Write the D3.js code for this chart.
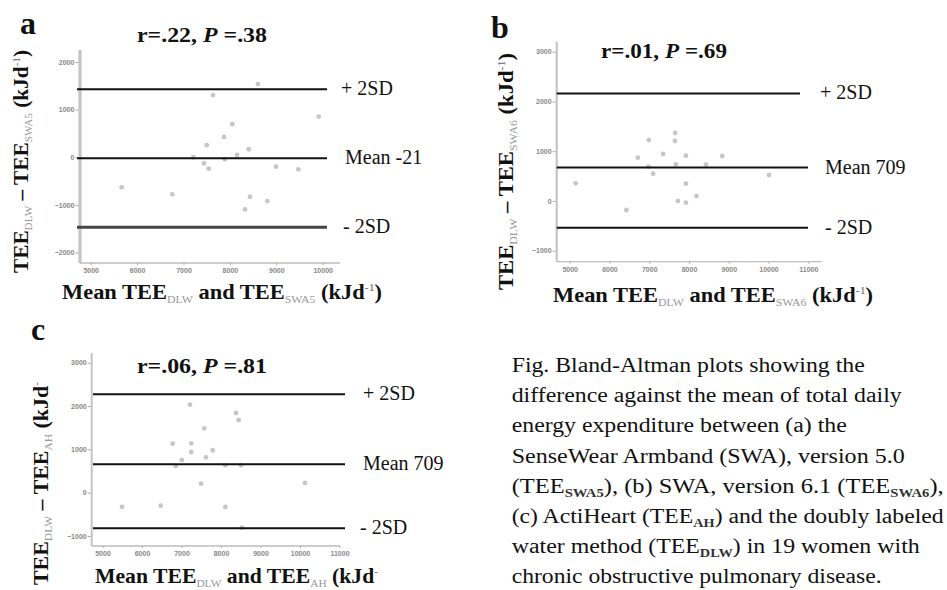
<!DOCTYPE html>
<html><head><meta charset="utf-8">
<script src="https://cdn.jsdelivr.net/npm/d3@7"></script>
<style>body{margin:0;background:#fff} svg{display:block}</style>
</head><body>
<svg id="chart" width="947" height="590"></svg>
<script>
// ---------- data ----------
const aX = [5668,6759,7211,7442,7500,7543,7636,7873,7888,8052,8153,8405,8325,8433,8606,8806,8994,9474,9914];
const aY = [-632,-779,0,-126,253,-240,1305,427,-42,695,48,168,-1095,-829,1537,-920,-198,-253,855];
const aLimits = [1430,-21,-1470];
const aLimitLabels = ["+ 2SD","Mean -21","- 2SD"];
const aXTicks = [5000,6000,7000,8000,9000,10000];
const aYTicks = [-2000,-1000,0,1000,2000];

const bX = [5151,6426,6713,6990,6980,7098,7350,7652,7645,7670,7720,7922,7922,7922,8189,8426,8836,10013];
const bY = [355,-182,869,1225,688,548,944,1366,1205,737,0,910,347,-35,99,729,904,522];
const bLimits = [2160,670,-540];
const bLimitLabels = ["+ 2SD","Mean 709","- 2SD"];
const bXTicks = [5000,6000,7000,8000,9000,10000,11000];
const bYTicks = [-1000,0,1000,2000,3000];

const cX = [5494,6473,6777,6853,7005,7215,7248,7248,7494,7577,7620,7790,8109,8109,8380,8448,8506,8532,10127];
const cY = [-330,-300,1131,616,755,2031,1140,939,208,1486,817,979,632,-330,1839,1678,632,-808,224];
const cLimits = [2270,655,-820];
const cLimitLabels = ["+ 2SD","Mean 709","- 2SD"];
const cXTicks = [5000,6000,7000,8000,9000,10000,11000];
const cYTicks = [-1000,0,1000,2000,3000];

const captionLines = [
  [["Fig. Bland-Altman plots showing the"]],
  [["difference against the mean of total daily"]],
  [["energy expenditure between (a) the"]],
  [["SenseWear Armband (SWA), version 5.0"]],
  [["(TEE"],["SWA5","sub"],["), (b) SWA, version 6.1 (TEE"],["SWA6","sub"],["),"]],
  [["(c) ActiHeart (TEE"],["AH","sub"],[") and the doubly labeled"]],
  [["water method (TEE"],["DLW","sub"],[") in 19 women with"]],
  [["chronic obstructive pulmonary disease."]]
];
const captionWidths = [353,390,335,393,432,432,408,370];

// ---------- drawing ----------
const svg = d3.select("#chart");
const SERIF = "'Liberation Serif','DejaVu Serif',serif";

function richText(sel, parts, subSize){
  parts.forEach(p=>{
    const t = sel.append("tspan").text(p[0]);
    if(p[1]==="sub"){ t.attr("font-size",subSize).attr("font-weight","normal").attr("fill","#999").attr("dy",4); }
    else if(p[1]==="sup"){ t.attr("font-size",subSize).attr("font-weight","normal").attr("fill","#666").attr("dy",-8); }
    else if(p[1]==="it"){ t.attr("font-style","italic"); }
    if(p[2]) t.attr("dy",p[2]);
  });
}

function panel(p){
  const x = d3.scaleLinear().domain(p.xDom).range(p.xRange);
  const y = d3.scaleLinear().domain(p.yDom).range(p.yRange);
  const g = svg.append("g");

  // axis lines
  g.append("line").attr("x1",p.axisX).attr("x2",p.axisX).attr("y1",p.yTop).attr("y2",p.axisY)
    .attr("stroke","#c4c4c4").attr("stroke-width",p.yAxisW);
  g.append("line").attr("x1",p.axisX).attr("x2",p.xRight).attr("y1",p.axisY).attr("y2",p.axisY)
    .attr("stroke","#bdbdbd").attr("stroke-width",1.3);

  const ya = g.append("g").attr("transform",`translate(${p.axisX - p.yAxisW/2},0)`)
    .call(d3.axisLeft(y).tickValues(p.yTicks).tickSize(3).tickPadding(1).tickFormat(d3.format("d")));
  ya.select(".domain").remove();
  ya.selectAll("line").attr("stroke","#aaa");
  ya.selectAll("text").attr("font-size",7).attr("fill","#888").attr("font-family","Arial, 'Liberation Sans', sans-serif").attr("font-weight","bold");

  const xa = g.append("g").attr("transform",`translate(0,${p.axisY})`)
    .call(d3.axisBottom(x).tickValues(p.xTicks).tickSize(2).tickPadding(3).tickFormat(d3.format("d")));
  xa.select(".domain").remove();
  xa.selectAll("line").attr("stroke","#aaa");
  xa.selectAll("text").attr("font-size",7).attr("fill","#888").attr("font-family","Arial, 'Liberation Sans', sans-serif").attr("font-weight","bold");

  // points
  g.selectAll("circle.pt").data(p.xs.map((v,i)=>[v,p.ys[i]])).join("circle")
    .attr("class","pt").attr("cx",d=>x(d[0])).attr("cy",d=>y(d[1])).attr("r",2.4)
    .attr("fill","#c6c6c6");

  // limit lines
  p.limits.forEach((v,i)=>{
    g.append("line").attr("x1",p.lineX1).attr("x2",p.lineX2[i]).attr("y1",y(v)).attr("y2",y(v))
      .attr("stroke", i===2 && p.darkLow ? "#444" : "#111").attr("stroke-width", i===2 && p.darkLow ? 3 : 2);
    g.append("text").attr("x",p.labX[i]).attr("y",y(v)+6).text(p.limitLabels[i])
      .attr("font-family",SERIF).attr("font-size",20).attr("fill","#111");
  });

  // panel letter
  g.append("text").attr("x",p.letterX).attr("y",p.letterY).text(p.letter)
    .attr("font-family",SERIF).attr("font-weight","bold").attr("font-size",32).attr("fill","#111");

  // stats title
  const st = g.append("text").attr("x",p.titleX).attr("y",p.titleY).attr("text-anchor","middle")
    .attr("font-family",SERIF).attr("font-weight","bold").attr("font-size",22).attr("fill","#111")
    .attr("textLength",p.titleW).attr("lengthAdjust","spacingAndGlyphs");
  richText(st, p.title, 22);

  // y title
  const yt = g.append("text").attr("transform",`translate(${p.yTitleX},${p.yTitleY0}) rotate(-90)`)
    .attr("font-family",SERIF).attr("font-weight","bold").attr("font-size",21).attr("fill","#111")
    .attr("textLength",p.yTitleW).attr("lengthAdjust","spacingAndGlyphs");
  richText(yt, p.yTitle, 11);

  // x title
  const xt = g.append("text").attr("x",p.xTitleX).attr("y",p.xTitleY)
    .attr("font-family",SERIF).attr("font-weight","bold").attr("font-size",21).attr("fill","#111")
    .attr("textLength",p.xTitleW).attr("lengthAdjust","spacingAndGlyphs");
  richText(xt, p.xTitle, 11);
}

panel({
  xs:aX, ys:aY, limits:aLimits, limitLabels:aLimitLabels, xTicks:aXTicks, yTicks:aYTicks,
  xDom:[5000,10000], xRange:[90.7,322.7], yDom:[-2000,2000], yRange:[252.5,62],
  axisX:80, axisY:263, yTop:50, xRight:340, yAxisW:3.2,
  lineX1:77, lineX2:[327,327,327], labX:[341,345,343], darkLow:true,
  letter:"a", letterX:20, letterY:34,
  title:[["r=.22, "],["P","it"],[" =.38"]], titleX:202, titleY:42, titleW:130,
  yTitle:[["TEE"],["DLW","sub"],[" \u2013 TEE","",-4],["SWA5","sub"],[" (kJd","",-4],["-1","sup"],[")","",8]],
  yTitleX:28, yTitleY0:273, yTitleW:223,
  xTitle:[["Mean TEE"],["DLW","sub"],[" and TEE","",-4],["SWA5","sub"],[" (kJd","",-4],["-1","sup"],[")","",8]],
  xTitleX:62, xTitleY:299, xTitleW:320
});

panel({
  xs:bX, ys:bY, limits:bLimits, limitLabels:bLimitLabels, xTicks:bXTicks, yTicks:bYTicks,
  xDom:[5000,11000], xRange:[569.7,808.3], yDom:[-1000,3000], yRange:[250.7,51.7],
  axisX:556.7, axisY:261.7, yTop:41.7, xRight:822, yAxisW:2.2,
  lineX1:556.7, lineX2:[800,808,808], labX:[820,825,825], darkLow:false,
  letter:"b", letterX:491, letterY:38,
  title:[["r=.01, "],["P","it"],[" =.69"]], titleX:664, titleY:58, titleW:126,
  yTitle:[["TEE"],["DLW","sub"],[" \u2013 TEE","",-4],["SWA6","sub"],[" (kJd","",-4],["-1","sup"],[")","",8]],
  yTitleX:513, yTitleY0:290, yTitleW:237,
  xTitle:[["Mean TEE"],["DLW","sub"],[" and TEE","",-4],["SWA6","sub"],[" (kJd","",-4],["-1","sup"],[")","",8]],
  xTitleX:553, xTitleY:302, xTitleW:320
});

panel({
  xs:cX, ys:cY, limits:cLimits, limitLabels:cLimitLabels, xTicks:cXTicks, yTicks:cYTicks,
  xDom:[5000,11000], xRange:[102.5,339.5], yDom:[-1000,3000], yRange:[536,362.7],
  axisX:91.7, axisY:546, yTop:353, xRight:340, yAxisW:2,
  lineX1:93, lineX2:[345,345,345], labX:[363,363,360], darkLow:false,
  letter:"c", letterX:31, letterY:340,
  title:[["r=.06, "],["P","it"],[" =.81"]], titleX:202, titleY:373, titleW:130,
  yTitle:[["TEE"],["DLW","sub"],[" \u2013 TEE","",-4],["AH","sub"],[" (kJd","",-4],["-","sup"]],
  yTitleX:48, yTitleY0:585, yTitleW:203,
  xTitle:[["Mean TEE"],["DLW","sub"],[" and TEE","",-4],["AH","sub"],[" (kJd","",-4],["-","sup"]],
  xTitleX:95, xTitleY:583, xTitleW:283
});

// caption
captionLines.forEach((line,i)=>{
  const t = svg.append("text").attr("x",511.7).attr("y",372 + i*30.2)
    .attr("font-family",SERIF).attr("font-size",20).attr("fill","#111")
    .attr("textLength",captionWidths[i]).attr("lengthAdjust","spacingAndGlyphs");
  line.forEach(p=>{
    const s = t.append("tspan").text(p[0]);
    if(p[1]==="sub"){ s.attr("font-size",12).attr("font-weight","bold").attr("dy",4).attr("fill","#333"); }
  });
  // reset baseline after subscripts
  t.selectAll("tspan").each(function(d,j,nodes){
    const prev = j>0 ? d3.select(nodes[j-1]) : null;
    if(prev && prev.attr("dy")==="4" && !d3.select(this).attr("dy")) d3.select(this).attr("dy",-4);
  });
});
</script>
</body></html>
